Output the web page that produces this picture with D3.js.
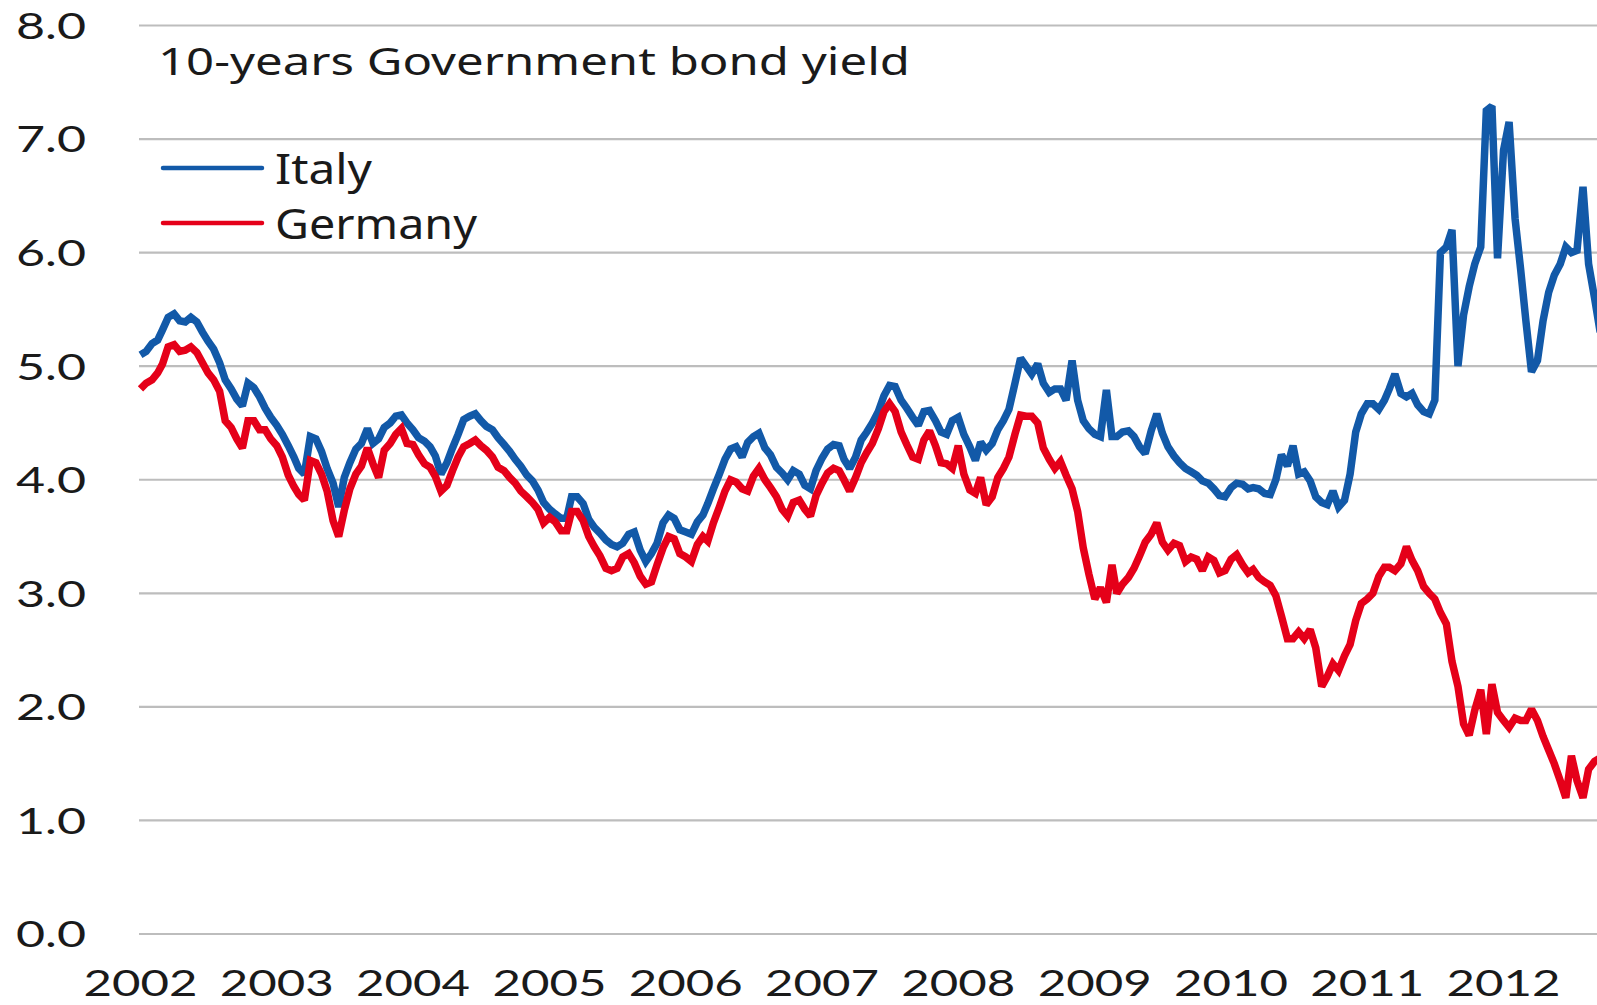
<!DOCTYPE html>
<html>
<head>
<meta charset="utf-8">
<script src="https://cdn.jsdelivr.net/npm/d3@7"></script>
<style>
  body { margin: 0; background: #fff; }
  svg { display: block; }
  text { font-family: "Noto Sans", sans-serif; fill: #1a1a1a; }
  .num { font-family: Lato, "Noto Sans", sans-serif; }
</style>
</head>
<body>
<svg id="chart" width="1597" height="1005"></svg>
<script>
// 10-year government bond yields (%), two readings per month (1st and 16th), from Jan 2002
const seriesStart = [2002, 0];

const italy = [
  5.10,5.13,5.20,5.23,5.32,5.43,5.46,5.40,5.39,5.43,5.39,5.30,5.22,5.15,5.03,4.88,4.80,4.71,4.65,4.85,4.81,4.73,4.63,4.55, // 2002
  4.48,4.40,4.30,4.20,4.10,4.05,4.38,4.36,4.25,4.10,3.97,3.76,4.02,4.15,4.27,4.32,4.45,4.32,4.36,4.46,4.50,4.56,4.57,4.50, // 2003
  4.44,4.37,4.34,4.29,4.21,4.05,4.15,4.28,4.40,4.53,4.56,4.58,4.52,4.47,4.44,4.37,4.31,4.25,4.18,4.12,4.04,3.99,3.91,3.80, // 2004
  3.74,3.70,3.66,3.66,3.85,3.85,3.79,3.65,3.58,3.53,3.47,3.43,3.41,3.44,3.52,3.54,3.38,3.28,3.35,3.44,3.62,3.69,3.66,3.56, // 2005
  3.54,3.52,3.63,3.69,3.79,3.92,4.05,4.18,4.27,4.29,4.20,4.33,4.38,4.41,4.28,4.22,4.11,4.06,4.00,4.08,4.05,3.95,3.92,4.08, // 2006
  4.19,4.27,4.31,4.30,4.18,4.10,4.20,4.35,4.42,4.50,4.60,4.74,4.83,4.82,4.70,4.63,4.55,4.48,4.60,4.61,4.52,4.42,4.40,4.52, // 2007
  4.55,4.40,4.29,4.17,4.33,4.26,4.32,4.44,4.52,4.62,4.85,5.07,5.00,4.93,5.02,4.85,4.77,4.80,4.80,4.70,5.05,4.70,4.52,4.45, // 2008
  4.40,4.38,4.79,4.38,4.38,4.42,4.43,4.38,4.29,4.23,4.43,4.58,4.41,4.29,4.21,4.15,4.10,4.07,4.04,3.99,3.97,3.92,3.86,3.85, // 2009
  3.93,3.97,3.96,3.92,3.93,3.92,3.88,3.87,4.00,4.22,4.12,4.30,4.05,4.07,3.99,3.85,3.80,3.78,3.90,3.76,3.82,4.05,4.42,4.58, // 2010
  4.67,4.67,4.62,4.70,4.80,4.93,4.76,4.73,4.76,4.66,4.60,4.58,4.70,6.00,6.05,6.20,5.00,5.45,5.70,5.90,6.05,7.25,7.29,5.95, // 2011
  6.90,7.15,6.30,5.85,5.40,4.95,5.05,5.40,5.65,5.80,5.90,6.05,6.00,6.02,6.58,5.90,5.60,5.30                                // 2012
];

const germany = [
  4.80,4.85,4.88,4.94,5.02,5.17,5.19,5.13,5.14,5.17,5.12,5.03,4.94,4.88,4.78,4.52,4.46,4.36,4.28,4.52,4.52,4.44,4.44,4.36, // 2002
  4.30,4.20,4.04,3.94,3.87,3.82,4.17,4.15,4.05,3.90,3.64,3.50,3.73,3.92,4.05,4.12,4.28,4.14,4.02,4.26,4.32,4.40,4.45,4.32, // 2003
  4.31,4.22,4.14,4.11,4.03,3.90,3.95,4.08,4.20,4.29,4.32,4.35,4.30,4.26,4.20,4.11,4.08,4.02,3.97,3.90,3.85,3.80,3.74,3.62, // 2004
  3.67,3.63,3.55,3.55,3.72,3.72,3.64,3.50,3.41,3.33,3.22,3.20,3.22,3.32,3.35,3.27,3.15,3.08,3.10,3.25,3.40,3.50,3.48,3.35, // 2005
  3.32,3.28,3.43,3.50,3.46,3.62,3.76,3.90,4.00,3.98,3.92,3.90,4.03,4.10,4.00,3.93,3.85,3.74,3.68,3.80,3.82,3.74,3.68,3.86, // 2006
  3.97,4.06,4.10,4.08,4.00,3.90,4.02,4.15,4.24,4.32,4.45,4.60,4.67,4.60,4.42,4.31,4.20,4.18,4.35,4.43,4.30,4.15,4.14,4.10, // 2007
  4.30,4.05,3.91,3.88,4.02,3.78,3.85,4.02,4.10,4.20,4.40,4.57,4.56,4.56,4.50,4.28,4.18,4.10,4.16,4.04,3.92,3.72,3.40,3.17, // 2008
  2.95,3.05,2.92,3.25,3.00,3.08,3.14,3.22,3.33,3.45,3.52,3.62,3.45,3.38,3.44,3.42,3.28,3.32,3.30,3.20,3.32,3.29,3.18,3.20, // 2009
  3.30,3.34,3.25,3.18,3.21,3.14,3.10,3.07,2.98,2.80,2.60,2.60,2.66,2.60,2.68,2.52,2.18,2.27,2.38,2.32,2.45,2.55,2.76,2.91, // 2010
  2.95,3.00,3.15,3.23,3.23,3.20,3.26,3.41,3.29,3.20,3.06,3.00,2.95,2.83,2.73,2.40,2.18,1.85,1.75,1.97,2.15,1.76,2.20,1.95, // 2011
  1.88,1.82,1.90,1.88,1.88,1.98,1.88,1.74,1.62,1.50,1.35,1.20,1.57,1.35,1.20,1.45,1.52,1.55                                // 2012
];

const yearLabels = ["2002","2003","2004","2005","2006","2007","2008","2009","2010","2011","2012"];
const yTicks = [0, 1, 2, 3, 4, 5, 6, 7, 8];
const titleText = "10-years Government bond yield";
const seriesNames = ["Italy", "Germany"];
const seriesColors = ["#1259a8", "#e50019"];

// observation date for the i-th reading
const dateAt = i => new Date(seriesStart[0], seriesStart[1] + Math.floor(i / 2), i % 2 ? 16 : 1);

const svg = d3.select("#chart");

const x = d3.scaleTime()
  .domain([new Date(2002, 0, 1), new Date(2012, 0, 1)])
  .range([140.5, 1503.5]);

const y = d3.scaleLinear().domain([0, 8]).range([934, 25.5]);

// horizontal gridlines
svg.append("g")
  .selectAll("line")
  .data(yTicks)
  .join("line")
  .attr("x1", 139).attr("x2", 1597)
  .attr("y1", d => y(d)).attr("y2", d => y(d))
  .attr("stroke", "#bdbdbd")
  .attr("stroke-width", 2.2);

// value axis labels
svg.append("g")
  .selectAll("text")
  .data(yTicks)
  .join("text")
  .attr("class", "num")
  .attr("x", 86)
  .attr("y", d => y(d))
  .attr("dy", "0.36em")
  .attr("text-anchor", "end")
  .attr("font-size", 37)
  .attr("textLength", 70)
  .attr("lengthAdjust", "spacingAndGlyphs")
  .text(d3.format(".1f"));

// year labels
svg.append("g")
  .selectAll("text")
  .data(yearLabels)
  .join("text")
  .attr("class", "num")
  .attr("x", d => x(new Date(+d, 0, 1)))
  .attr("y", 996)
  .attr("text-anchor", "middle")
  .attr("font-size", 37)
  .attr("textLength", 114)
  .attr("lengthAdjust", "spacingAndGlyphs")
  .text(d => d);

// yield lines
const line = d3.line()
  .x((d, i) => x(dateAt(i)))
  .y(d => y(d));

[italy, germany].forEach((values, k) => {
  svg.append("path")
    .datum(values)
    .attr("fill", "none")
    .attr("stroke", seriesColors[k])
    .attr("stroke-width", 7.5)
    .attr("stroke-linejoin", "miter")
    .attr("stroke-miterlimit", 2)
    .attr("d", line);
});

// title
svg.append("text")
  .attr("x", 158)
  .attr("y", 75)
  .attr("font-size", 39)
  .attr("textLength", 752)
  .attr("lengthAdjust", "spacingAndGlyphs")
  .text(titleText);

// legend
const legendY = [168, 223];
const legendLen = [97, 202];
seriesNames.forEach((name, k) => {
  svg.append("line")
    .attr("x1", 163).attr("x2", 262)
    .attr("y1", legendY[k]).attr("y2", legendY[k])
    .attr("stroke", seriesColors[k])
    .attr("stroke-width", 4.5)
    .attr("stroke-linecap", "round");
  svg.append("text")
    .attr("x", 275)
    .attr("y", legendY[k] + 16)
    .attr("font-size", 42)
    .attr("textLength", legendLen[k])
    .attr("lengthAdjust", "spacingAndGlyphs")
    .text(name);
});
</script>
</body>
</html>
